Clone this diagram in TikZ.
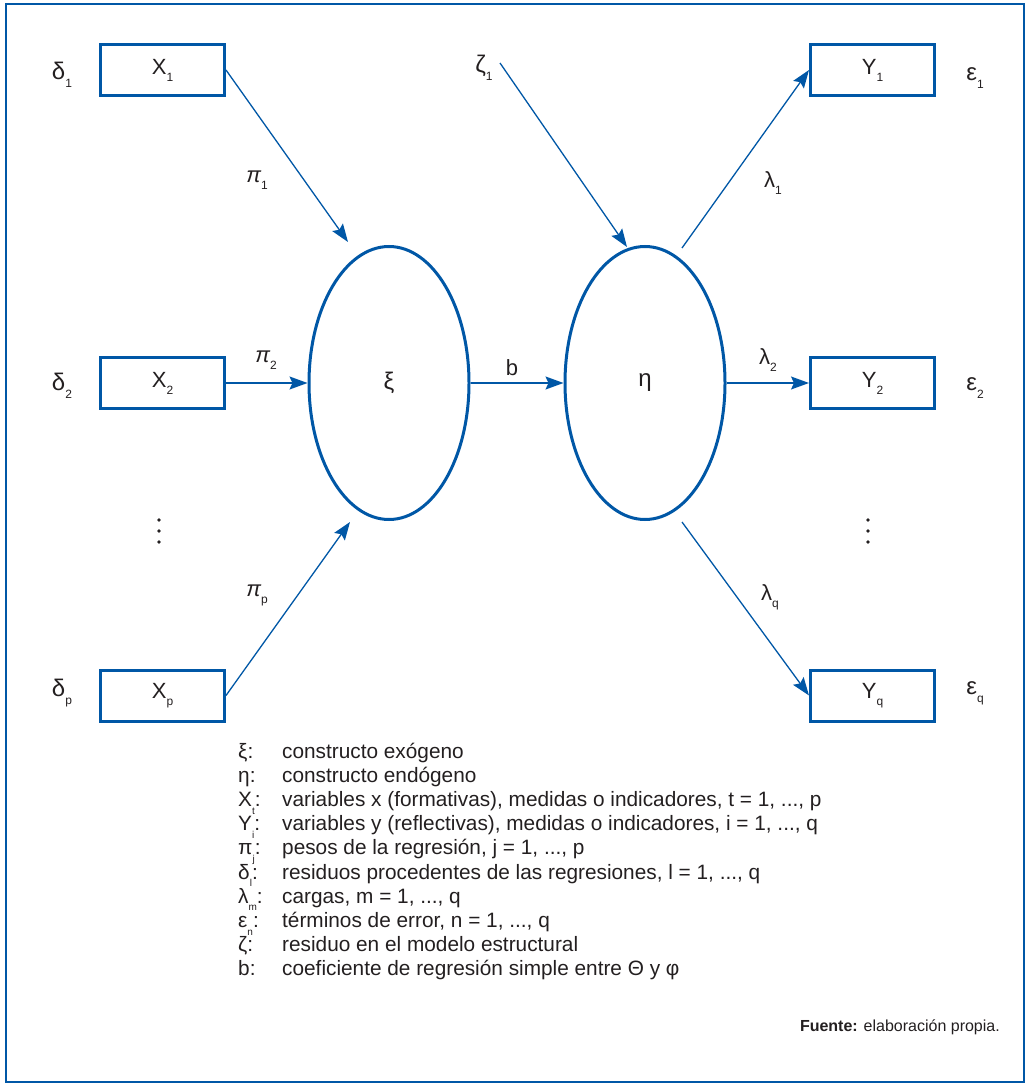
\documentclass[tikz,border=0pt]{standalone}
\usepackage{fontspec}
\setmainfont{Liberation Sans}
\usetikzlibrary{arrows.meta,shapes.geometric}
\definecolor{mblue}{RGB}{0,87,166}
\definecolor{txt}{RGB}{35,31,32}
\newcommand{\sbx}[1]{\raisebox{-0.6ex}{\fontsize{12}{12}\selectfont #1}}
\newcommand{\lsb}[1]{\raisebox{-0.7ex}{\fontsize{10}{10}\selectfont #1}}
\begin{document}
\begin{tikzpicture}[x=1pt,y=-1pt,
  every node/.style={text=txt,font=\fontsize{22}{26}\selectfont},
  varbox/.style={draw=mblue,line width=3pt,minimum width=124pt,minimum height=51pt,inner sep=0pt},
  latent/.style={draw=mblue,line width=3pt,ellipse,minimum width=160pt,minimum height=273pt,inner sep=0pt},
  conn/.style={draw=mblue,line width=1.3pt,-{Stealth[length=18pt,width=13pt,inset=3pt]}},
  lbl/.style={inner sep=0pt},
  leg/.style={anchor=base west,inner sep=0pt,font=\fontsize{20.8}{24}\selectfont}]
\useasboundingbox (0,0) rectangle (1028,1086);
\draw[mblue,line width=1.2pt] (6,4) rectangle (1024,1082);

% observed variables
\node[varbox] (X1) at (162.5,70) {X\sbx{1}};
\node[varbox] (X2) at (162.5,383) {X\sbx{2}};
\node[varbox] (Xp) at (162.5,695.5) {X\sbx{p}};
\node[varbox] (Y1) at (872.5,70) {Y\sbx{1}};
\node[varbox] (Y2) at (872.5,383) {Y\sbx{2}};
\node[varbox] (Yq) at (872.5,695.5) {Y\sbx{q}};

% latent constructs
\node[latent,font=\fontsize{24}{28}\selectfont] (xi) at (389,383) {ξ};
\node[latent,font=\fontsize{24}{28}\selectfont] (eta) at (645,383) {η};

% error labels
\node[lbl,font=\fontsize{24}{28}\selectfont] (d1) at (62,75) {δ\sbx{1}};
\node[lbl,font=\fontsize{24}{28}\selectfont] (d2) at (62,386) {δ\sbx{2}};
\node[lbl,font=\fontsize{24}{28}\selectfont] (dp) at (62,693) {δ\sbx{p}};
\node[lbl,font=\fontsize{24}{28}\selectfont] (e1) at (975,78) {ε\sbx{1}};
\node[lbl,font=\fontsize{24}{28}\selectfont] (e2) at (975,388) {ε\sbx{2}};
\node[lbl,font=\fontsize{24}{28}\selectfont] (eq) at (975,693) {ε\sbx{q}};
\node[lbl,font=\fontsize{24}{28}\selectfont] (z1) at (484,68) {ζ\sbx{1}};

% free ends
\coordinate (xt1) at (348,242);
\coordinate (xtp) at (350,522);
\coordinate (zs) at (500,63);
\coordinate (et1) at (627,247);
\coordinate (es1) at (682,248);
\coordinate (esq) at (682,522);

% connectors
\draw[conn] (X1.east) -- (xt1);
\draw[conn] (X2.east) -- (xi.west);
\draw[conn] (Xp.east) -- (xtp);
\draw[conn] (xi.east) -- (eta.west);
\draw[conn] (zs) -- (et1);
\draw[conn] (es1) -- (Y1.west);
\draw[conn] (eta.east) -- (Y2.west);
\draw[conn] (esq) -- (Yq.west);

% connector labels
\node[lbl] (p1) at (257,180) {\itshape π\sbx{\upshape 1}};
\node[lbl] (p2) at (266,360) {\itshape π\sbx{\upshape 2}};
\node[lbl] (pp) at (257,595) {\itshape π\sbx{\upshape p}};
\node[lbl] (bl) at (512,368) {b};
\node[lbl] (l1) at (773,183) {λ\sbx{1}};
\node[lbl] (l2) at (768,360) {λ\sbx{2}};
\node[lbl] (lq) at (770,597) {λ\sbx{q}};

% vertical ellipses
\foreach \yy in {520,531,542} {
  \fill[txt] (159,\yy) circle (1.9);
  \fill[txt] (868,\yy) circle (1.9);
}

% legend
\foreach \s/\t [count=\k from 0] in {
  ξ:/constructo exógeno,
  η:/constructo endógeno,
  X\lsb{t}:/{variables x (formativas), medidas o indicadores, t = 1, ..., p},
  Y\lsb{i}:/{variables y (reflectivas), medidas o indicadores, i = 1, ..., q},
  π\lsb{j}:/{pesos de la regresión, j = 1, ..., p},
  δ\lsb{l}:/{residuos procedentes de las regresiones, l = 1, ..., q},
  λ\lsb{m}:/{cargas, m = 1, ..., q},
  ε\lsb{n}:/{términos de error, n = 1, ..., q},
  ζ:/residuo en el modelo estructural,
  b:/coeficiente de regresión simple entre Θ y φ} {
  \node[leg] (ls\k) at (238,758+24.2*\k) {\s};
  \node[leg] (lt\k) at (282,758+24.2*\k) {\t};
}

\node[anchor=base east,inner sep=0pt,font=\fontsize{16}{18}\selectfont] (src) at (1000,1031) {\textbf{Fuente:} elaboración propia.};
\end{tikzpicture}
\end{document}
